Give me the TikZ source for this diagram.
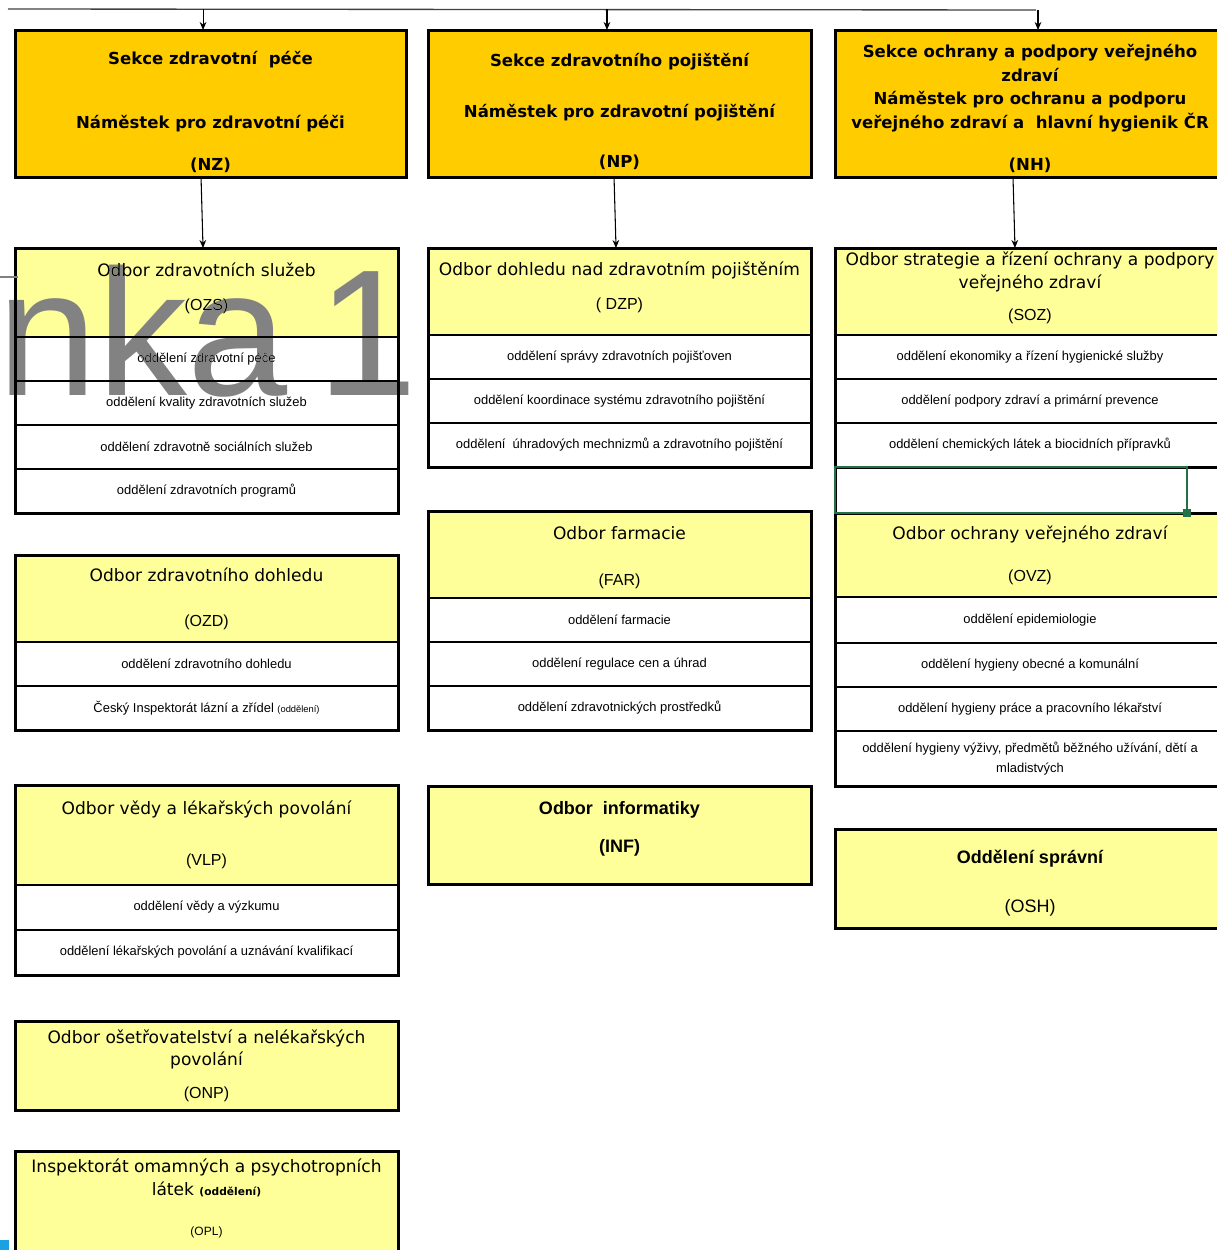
\documentclass[tikz,border=0pt]{standalone}
\usepackage{fontspec}
\setmainfont{Liberation Sans}
\newfontfamily\tahoma{DejaVu Sans}
\usetikzlibrary{positioning,arrows.meta}
\definecolor{sekceoranz}{HTML}{FFCC00}
\definecolor{odborzluta}{HTML}{FFFF99}
\definecolor{excelzelena}{HTML}{217346}
\definecolor{vodoznak}{HTML}{828282}
\definecolor{rohmodra}{HTML}{1BA1E2}
\tikzset{
  box/.style={draw=black, anchor=north west, align=center, inner sep=0pt, outer sep=0pt, line width=1.5pt},
  sekce/.style={box, fill=sekceoranz, line width=2.25pt, font=\tahoma\bfseries\fontsize{12.4}{15}\selectfont},
  odbor/.style={box, fill=odborzluta, line width=2.25pt, minimum width=383*0.75pt, font=\tahoma\fontsize{12.8}{15}\selectfont},
  odbortucne/.style={odbor, font=\bfseries\fontsize{13.5}{15}\selectfont},
  oddel/.style={box, fill=white, minimum width=383*0.75pt, minimum height=44*0.75pt, font=\fontsize{9.7}{13}\selectfont},
  ramec/.style={draw=black, line width=2.25pt},
  link/.style={draw=black, line width=0.8pt, -{Stealth[length=6pt,width=5pt]}},
  vodoznakstyl/.style={anchor=base west, inner sep=0pt, text=vodoznak, font=\fontsize{135}{135}\selectfont}
}
\newcommand{\zkr}[1]{{\rmfamily\mdseries\fontsize{12}{15}\selectfont #1}}
\newcommand{\drobne}[1]{{\fontsize{7}{8}\selectfont #1}}
% posun textu v uzlu: \dolu pridava vysku nahore, \nahoru hloubku dole
\newcommand{\dolu}[1]{\rule{0pt}{#1}}
\newcommand{\nahoru}[1]{\rule[-#1]{0pt}{#1}}

\begin{document}
\begin{tikzpicture}[x=0.75pt, y=-0.75pt]
	\path[fill=white, use as bounding box] (0,0) rectangle (1217,1250);
	% sekce
	\node[sekce, minimum width=391*0.75pt, minimum height=147*0.75pt] (NZ) at (15,30)
		{\dolu{22pt}Sekce zdravotní\ \ péče\\[33pt]Náměstek pro zdravotní péči\\[16.5pt](NZ)};
	\node[sekce, minimum width=383*0.75pt, minimum height=147*0.75pt] (NP) at (428,30)
		{\dolu{22pt}Sekce zdravotního pojištění\\[23pt]Náměstek pro zdravotní pojištění\\[23pt](NP)};
	\node[sekce, minimum width=390*0.75pt, minimum height=147*0.75pt] (NH) at (835,30)
		{\dolu{17.5pt}Sekce ochrany a podpory veřejného\\[3pt]zdraví\\[2pt]Náměstek pro ochranu a podporu\\[3pt]veřejného zdraví a\ \ hlavní hygienik ČR\\[17pt](NH)};
	% sloupec NZ
	\node[odbor, minimum height=89*0.75pt] (OZS) at (15,248) {Odbor zdravotních služeb\\[10.5pt]\zkr{(OZS)}\nahoru{8.5pt}};
	\node[oddel, below=0pt of OZS] (OZS1) {oddělení zdravotní péče};
	\node[oddel, below=0pt of OZS1] (OZS2) {oddělení kvality zdravotních služeb};
	\node[oddel, below=0pt of OZS2] (OZS3) {oddělení zdravotně sociálních služeb};
	\node[oddel, below=0pt of OZS3] (OZS4) {oddělení zdravotních programů};
	\draw[ramec] (OZS.north west) rectangle (OZS4.south east);

	\node[odbor, minimum height=87*0.75pt] (OZD) at (15,555) {Odbor zdravotního dohledu\\[18.75pt]\zkr{(OZD)}};
	\node[oddel, below=0pt of OZD] (OZD1) {oddělení zdravotního dohledu};
	\node[oddel, below=0pt of OZD1] (OZD2) {Český Inspektorát lázní a zřídel \drobne{(oddělení)}};
	\draw[ramec] (OZD.north west) rectangle (OZD2.south east);

	\node[odbor, minimum height=100*0.75pt] (VLP) at (15,785) {Odbor vědy a lékařských povolání\\[23.25pt]\zkr{(VLP)}};
	\node[oddel, minimum height=45*0.75pt, below=0pt of VLP] (VLP1) {oddělení vědy a\ výzkumu};
	\node[oddel, minimum height=45*0.75pt, below=0pt of VLP1] (VLP2) {oddělení lékařských povolání a uznávání kvalifikací};
	\draw[ramec] (VLP.north west) rectangle (VLP2.south east);

	\node[odbor, minimum height=89*0.75pt] (ONP) at (15,1021) {Odbor ošetřovatelství a nelékařských\\[1.5pt]povolání\\[9.75pt]\zkr{(ONP)}};
	\node[odbor, minimum height=104*0.75pt] (OPL) at (15,1151) {Inspektorát omamných a psychotropních\\[2.25pt]látek {\fontsize{8}{9}\selectfont\bfseries (oddělení)}\\[15pt]{\rmfamily\fontsize{9}{10}\selectfont (OPL)}\nahoru{9pt}};
	% sloupec NP
	\node[odbor, minimum height=87*0.75pt] (DZP) at (428,248) {Odbor dohledu nad zdravotním pojištěním\\[10.5pt]\zkr{( DZP)}\nahoru{8pt}};
	\node[oddel, below=0pt of DZP] (DZP1) {oddělení správy zdravotních pojišťoven};
	\node[oddel, below=0pt of DZP1] (DZP2) {oddělení koordinace systému zdravotního pojištění};
	\node[oddel, below=0pt of DZP2] (DZP3) {oddělení\ \ úhradových mechnizmů a zdravotního pojištění};
	\draw[ramec] (DZP.north west) rectangle (DZP3.south east);

	\node[odbor, minimum height=87*0.75pt] (FAR) at (428,511) {\dolu{14.2pt}Odbor farmacie\\[19.5pt]\zkr{(FAR)}};
	\node[oddel, below=0pt of FAR] (FAR1) {oddělení farmacie};
	\node[oddel, below=0pt of FAR1] (FAR2) {oddělení regulace cen a úhrad};
	\node[oddel, below=0pt of FAR2] (FAR3) {oddělení zdravotnických prostředků};
	\draw[ramec] (FAR.north west) rectangle (FAR3.south east);

	\node[odbortucne, minimum height=98*0.75pt] (INF) at (428,786) {Odbor\ \ informatiky\\[13.5pt](INF)\nahoru{11.8pt}};
	% sloupec NH
	\node[odbor, minimum width=390*0.75pt, minimum height=87*0.75pt] (SOZ) at (835,248) {Odbor strategie a řízení ochrany a podpory\\[2.25pt]veřejného zdraví\\[9pt]\zkr{(SOZ)}\nahoru{8.5pt}};
	\node[oddel, minimum width=390*0.75pt, below=0pt of SOZ] (SOZ1) {oddělení ekonomiky a řízení hygienické služby};
	\node[oddel, minimum width=390*0.75pt, below=0pt of SOZ1] (SOZ2) {oddělení podpory zdraví a primární prevence};
	\node[oddel, minimum width=390*0.75pt, below=0pt of SOZ2] (SOZ3) {oddělení chemických látek a biocidních přípravků};
	\node[oddel, minimum width=390*0.75pt, minimum height=46*0.75pt, below=0pt of SOZ3] (SOZ4) {};
	\node[odbor, minimum width=390*0.75pt, minimum height=84*0.75pt, below=0pt of SOZ4] (OVZ) {Odbor ochrany veřejného zdraví\\[16.5pt]\zkr{(OVZ)}};
	\node[oddel, minimum width=390*0.75pt, minimum height=46*0.75pt, below=0pt of OVZ] (OVZ1) {oddělení epidemiologie};
	\node[oddel, minimum width=390*0.75pt, below=0pt of OVZ1] (OVZ2) {oddělení hygieny obecné a komunální};
	\node[oddel, minimum width=390*0.75pt, below=0pt of OVZ2] (OVZ3) {oddělení hygieny práce a pracovního lékařství};
	\node[oddel, minimum width=390*0.75pt, minimum height=55*0.75pt, below=0pt of OVZ3] (OVZ4) {oddělení hygieny výživy, předmětů běžného užívání, dětí a\\[2pt]mladistvých};
	\draw[ramec] (SOZ.north west) rectangle (OVZ4.south east);
	\draw[ramec] (SOZ3.south west) -- (SOZ3.south east);
	\draw[ramec] (OVZ.north west) -- (OVZ.north east);
	% vyber bunky
	\coordinate (vyb) at ([xshift=-28.5pt]SOZ4.south east);
	\draw[excelzelena, line width=1.5pt] (SOZ4.north west) rectangle (vyb);
	\fill[excelzelena] (vyb) ++(-3pt,-3pt) rectangle ++(6pt,6pt);

	\node[odbortucne, minimum width=390*0.75pt, minimum height=99*0.75pt] (OSH) at (835,829) {\dolu{17.6pt}Oddělení správní\\[21.75pt]{\mdseries (OSH)}};
	% vazby
	\coordinate (top-l) at (8,9);
	\coordinate (top-r) at (1036,10);
	\draw[draw=black!75, line width=1pt] (top-l) -- (top-r);
	\coordinate (s1) at ([xshift=-5.6pt]NZ.north);
	\coordinate (s2) at ([xshift=-9.4pt]NP.north);
	\coordinate (s3) at ([xshift=6pt]NH.north);
	\draw[link] (s1 |- top-l) -- (s1);
	\draw[link] (s2 |- top-l) -- (s2);
	\draw[link] (s3 |- top-r) -- (s3);
	\draw[link] ([xshift=-7.1pt]NZ.south) -- ([xshift=-2.6pt]OZS.north);
	\draw[link] ([xshift=-4.1pt]NP.south) -- ([xshift=-2.6pt]DZP.north);
	\draw[link] ([xshift=-12.75pt]NH.south) -- ([xshift=-11.25pt]SOZ.north);
	% okraje
	\draw[draw=gray, line width=1pt] (0,277) -- (18,277);
	\fill[rohmodra] (0,1240) rectangle (9,1250);
	% vodoznak
	\begin{scope}[blend mode=darken]
		\node[vodoznakstyl] (wm) at (-3,395) {nka\hspace{-15pt} 1};
	\end{scope}
\end{tikzpicture}
\end{document}
